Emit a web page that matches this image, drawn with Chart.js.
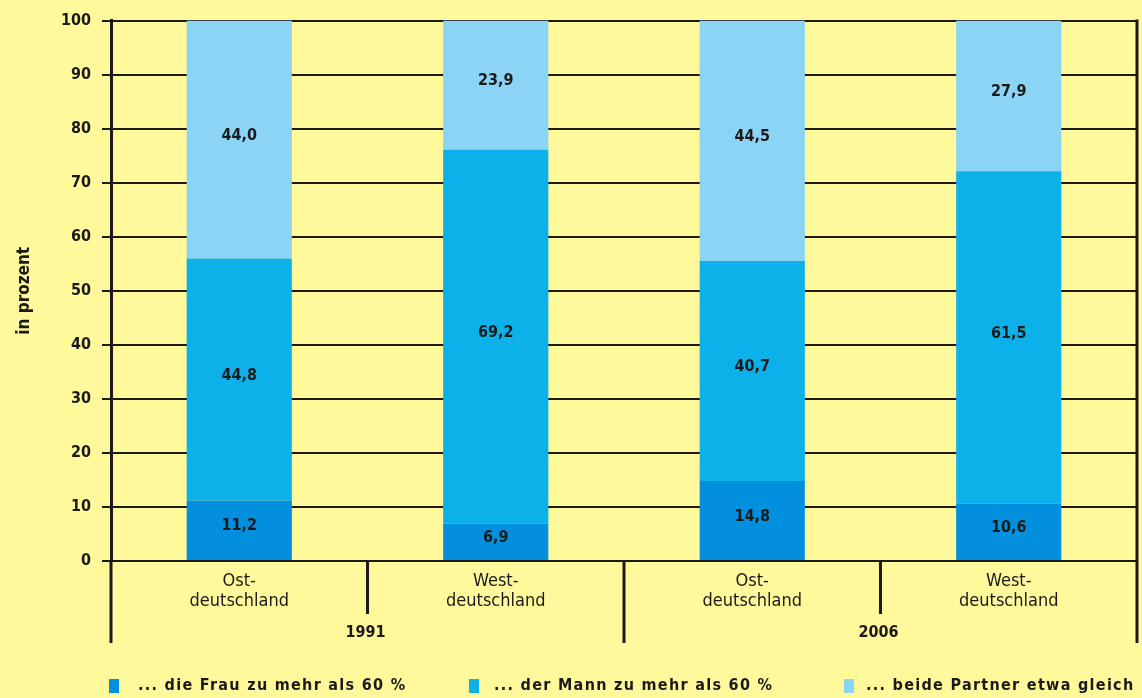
<!DOCTYPE html>
<html>
<head>
<meta charset="utf-8">
<script src="https://cdn.jsdelivr.net/npm/chart.js@4.4.1/dist/chart.umd.min.js"></script>
<style>
  html, body { margin: 0; padding: 0; background: #fff99c; }
  #wrap { width: 1142px; height: 698px; position: relative; }
</style>
</head>
<body>
<div id="wrap"><canvas id="chart"></canvas></div>
<script>
// data
const categories = [["Ost-", "deutschland"], ["West-", "deutschland"], ["Ost-", "deutschland"], ["West-", "deutschland"]];
const years = ["1991", "2006"];
const frauValues = [11.2, 6.9, 14.8, 10.6];
const mannValues = [44.8, 69.2, 40.7, 61.5];
const beideValues = [44.0, 23.9, 44.5, 27.9];
const seriesLabels = ["... die Frau zu mehr als 60 %", "... der Mann zu mehr als 60 %", "... beide Partner etwa gleich"];
const yTicks = [0, 10, 20, 30, 40, 50, 60, 70, 80, 90, 100];

const INK = "#1a1a1a";
const FONT = "'Liberation Sans Narrow', 'DejaVu Sans Condensed', 'Liberation Sans', sans-serif";

// value labels centred in each segment, with a decimal comma
const segmentLabels = {
  id: "segmentLabels",
  afterDatasetsDraw(chart) {
    const ctx = chart.ctx;
    ctx.save();
    ctx.fillStyle = INK;
    ctx.font = "bold 16px " + FONT;
    ctx.textAlign = "center";
    ctx.textBaseline = "middle";
    chart.data.datasets.forEach((ds, i) => {
      chart.getDatasetMeta(i).data.forEach((bar, j) => {
        const y = (bar.y + bar.base) / 2 - 4;
        ctx.fillText(ds.data[j].toFixed(1).replace(".", ","), bar.x, y);
      });
    });
    ctx.restore();
  }
};

// separators under the axis, year labels, right frame line, legend
const frame = {
  id: "frame",
  afterDraw(chart) {
    const ctx = chart.ctx;
    const area = chart.chartArea;
    const x = chart.scales.x;
    const n = categories.length;
    const px = (i) => x.getPixelForValue(i);
    const low = area.bottom + 82;
    const mid = area.bottom + 53;
    ctx.save();
    ctx.strokeStyle = INK;
    ctx.lineWidth = 3;
    ctx.beginPath();
    // left axis line continues down, right frame line
    ctx.moveTo(area.left, area.bottom);
    ctx.lineTo(area.left, low);
    ctx.moveTo(area.right, area.top - 1);
    ctx.lineTo(area.right, low);
    for (let i = 0; i < n - 1; i++) {
      const b = (px(i) + px(i + 1)) / 2;
      ctx.moveTo(b, area.bottom);
      ctx.lineTo(b, i % 2 === 1 ? low : mid);
    }
    ctx.stroke();

    ctx.fillStyle = INK;
    ctx.font = "bold 16px " + FONT;
    ctx.textAlign = "center";
    ctx.textBaseline = "middle";
    years.forEach((yr, k) => {
      const b = (px(2 * k) + px(2 * k + 1)) / 2;
      ctx.fillText(yr, b - 2, area.bottom + 72);
    });

    // legend
    const markX = [109, 469, 844];
    const textX = [138, 494, 866];
    const ly = 686;
    ctx.textAlign = "left";
    ctx.font = "bold 16px " + FONT;
    chart.data.datasets.forEach((ds, i) => {
      ctx.fillStyle = ds.backgroundColor;
      ctx.fillRect(markX[i], ly - 7, 10, 14);
      ctx.fillStyle = INK;
      ctx.letterSpacing = "1.3px";
      ctx.fillText(ds.label, textX[i], ly);
    });
    ctx.restore();
  }
};

new Chart(document.getElementById("chart"), {
  type: "bar",
  data: {
    labels: categories,
    datasets: [
      { label: seriesLabels[0], data: frauValues, backgroundColor: "#0290de" },
      { label: seriesLabels[1], data: mannValues, backgroundColor: "#0db1ea" },
      { label: seriesLabels[2], data: beideValues, backgroundColor: "#8bd4f5" }
    ]
  },
  options: {
    responsive: true,
    maintainAspectRatio: false,
    animation: false,
    datasets: {
      bar: { barPercentage: 0.41, categoryPercentage: 1, borderWidth: 0 }
    },
    layout: { padding: { top: 20, right: 5, bottom: 55, left: 0 } },
    scales: {
      x: {
        stacked: true,
        grid: { display: false, drawTicks: false },
        border: { display: false },
        ticks: {
          color: INK,
          padding: 10,
          font: { family: FONT, size: 18, lineHeight: 1.12 }
        },
        afterFit(scale) { scale.height = 82; }
      },
      y: {
        stacked: true,
        min: 0,
        max: 100,
        afterBuildTicks(scale) { scale.ticks = yTicks.map(v => ({ value: v })); },
        grid: { color: INK, lineWidth: 2, tickLength: 9 },
        border: { color: INK, width: 3 },
        ticks: {
          color: INK,
          padding: 11,
          font: { family: FONT, size: 16, weight: "bold" }
        },
        title: {
          display: true,
          text: "in prozent",
          color: INK,
          font: { family: FONT, size: 17, weight: "bold" },
          padding: { top: 14, bottom: 0 }
        },
        afterFit(scale) { scale.width = 111; }
      }
    },
    plugins: {
      legend: { display: false },
      tooltip: { enabled: false }
    }
  },
  plugins: [segmentLabels, frame]
});
</script>
</body>
</html>
